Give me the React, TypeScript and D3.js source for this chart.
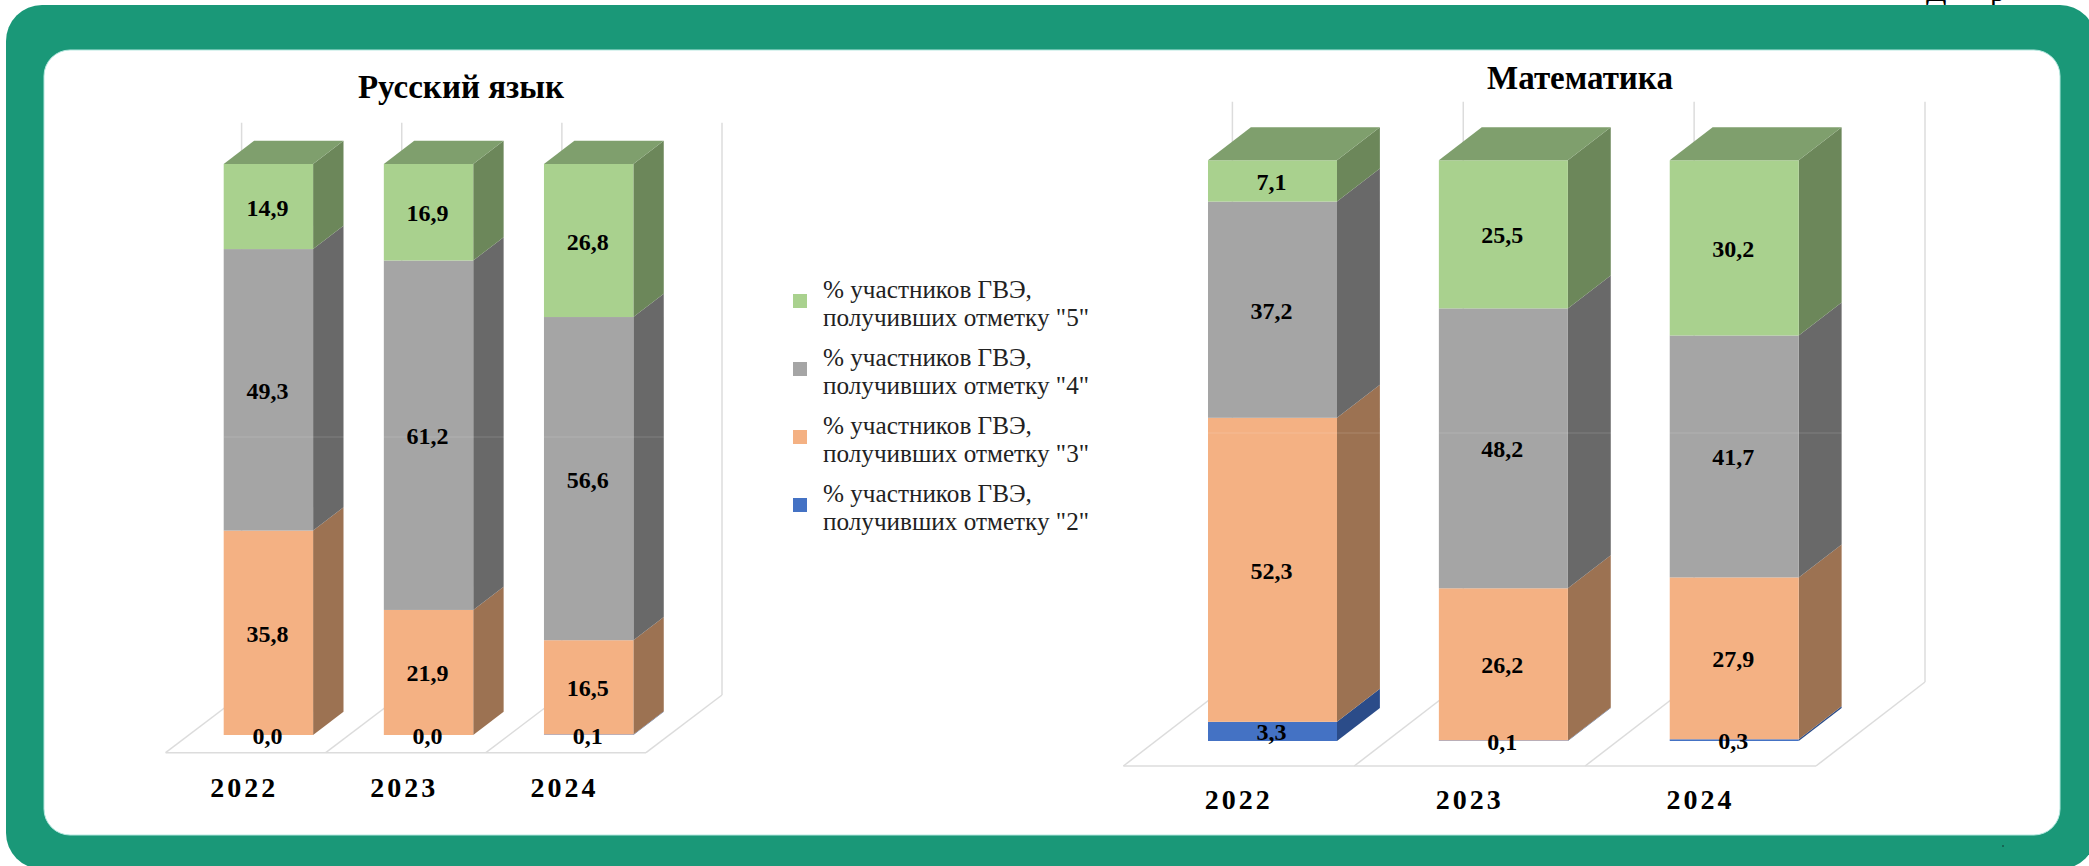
import React, { useEffect, useRef } from 'react';
import * as d3 from 'd3';

const years = ['2022', '2023', '2024'];
const seriesKeys = ['two', 'three', 'four', 'five'];

// оба графика: значения снизу вверх (отметка 2, 3, 4, 5)
const russianTwo = [0.0, 0.0, 0.1];
const russianThree = [35.8, 21.9, 16.5];
const russianFour = [49.3, 61.2, 56.6];
const russianFive = [14.9, 16.9, 26.8];

const mathTwo = [3.3, 0.1, 0.3];
const mathThree = [52.3, 26.2, 27.9];
const mathFour = [37.2, 48.2, 41.7];
const mathFive = [7.1, 25.5, 30.2];

const legendMarks = ['5', '4', '3', '2'];

const frontColor = { two: '#4472c4', three: '#f4b183', four: '#a5a5a5', five: '#a9d18e' };
const sideColor = { two: '#2b4c89', three: '#9c7252', four: '#696969', five: '#6c875a' };
const topColor = '#7f9f6d';
const gridColor = '#dcdcdc';
const serif = '"Liberation Serif", serif';

const toRows = (two, three, four, five) =>
  years.map((year, i) => ({ year, two: two[i], three: three[i], four: four[i], five: five[i] }));

const russianChart = {
  title: 'Русский язык', titleX: 461, titleY: 98,
  rows: toRows(russianTwo, russianThree, russianFour, russianFive),
  floorLeft: 165.6, floorRight: 646, floorY: 752.7,
  wallDx: 76, wallDy: 57.7, wallTop: 122.7,
  barOffset: 58.1, barWidth: 89.4, barDx: 30.4, barDy: 23.3,
  barTop: 164, barBottom: 735, yearY: 797, yearShift: -1.5, seamY: 437,
};

const mathChart = {
  title: 'Математика', titleX: 1580, titleY: 89,
  rows: toRows(mathTwo, mathThree, mathFour, mathFive),
  floorLeft: 1123.4, floorRight: 1816, floorY: 766,
  wallDx: 109, wallDy: 84, wallTop: 101.7,
  barOffset: 84.6, barWidth: 129, barDx: 42.9, barDy: 33,
  barTop: 160.3, barBottom: 741, yearY: 809, yearShift: 0, seamY: 433,
};

function drawChart(svg, c) {
  const x = d3.scaleBand().domain(years).range([c.floorLeft, c.floorRight]);
  const y = d3.scaleLinear().domain([0, 1]).range([c.barBottom, c.barTop]);
  const stacked = d3.stack().keys(seriesKeys).offset(d3.stackOffsetExpand)(c.rows);
  const poly = d3.line();
  const g = svg.append('g');

  // задняя стенка и пол
  const edges = [...years.map(d => x(d)), c.floorRight];
  edges.forEach(e => {
    g.append('line')
      .attr('x1', e + c.wallDx).attr('x2', e + c.wallDx)
      .attr('y1', c.wallTop).attr('y2', c.floorY - c.wallDy)
      .attr('stroke', gridColor).attr('stroke-width', 1.5);
    g.append('line')
      .attr('x1', e).attr('x2', e + c.wallDx)
      .attr('y1', c.floorY).attr('y2', c.floorY - c.wallDy)
      .attr('stroke', gridColor).attr('stroke-width', 1.5);
  });
  g.append('line')
    .attr('x1', c.floorLeft).attr('x2', c.floorRight)
    .attr('y1', c.floorY).attr('y2', c.floorY)
    .attr('stroke', gridColor).attr('stroke-width', 1.5);

  // столбцы
  stacked.forEach(layer => {
    layer.forEach(d => {
      const x0 = x(d.data.year) + c.barOffset;
      const x1 = x0 + c.barWidth;
      const yLow = y(d[0]);
      const yHigh = y(d[1]);
      g.append('path')
        .attr('d', poly([[x1, yLow], [x1, yHigh], [x1 + c.barDx, yHigh - c.barDy], [x1 + c.barDx, yLow - c.barDy]]) + 'Z')
        .attr('fill', sideColor[layer.key]);
      g.append('rect')
        .attr('x', x0).attr('y', yHigh)
        .attr('width', c.barWidth).attr('height', yLow - yHigh)
        .attr('fill', frontColor[layer.key]);
    });
  });

  // верхняя грань
  years.forEach(year => {
    const x0 = x(year) + c.barOffset;
    const x1 = x0 + c.barWidth;
    const t = y(1);
    g.append('path')
      .attr('d', poly([[x0, t], [x1, t], [x1 + c.barDx, t - c.barDy], [x0 + c.barDx, t - c.barDy]]) + 'Z')
      .attr('fill', topColor);
  });

  // шов на исходной картинке
  g.append('line')
    .attr('x1', x(years[0]) + c.barOffset).attr('x2', x(years[2]) + c.barOffset + c.barWidth + c.barDx)
    .attr('y1', c.seamY).attr('y2', c.seamY)
    .attr('stroke', '#ffffff').attr('stroke-opacity', 0.15).attr('stroke-width', 1);

  // подписи значений
  stacked.forEach(layer => {
    layer.forEach(d => {
      g.append('text')
        .attr('x', x(d.data.year) + c.barOffset + c.barWidth / 2 - 1)
        .attr('y', (y(d[0]) + y(d[1])) / 2 + 9)
        .attr('text-anchor', 'middle')
        .attr('font-family', serif).attr('font-weight', 700).attr('font-size', 24)
        .attr('fill', '#000')
        .text(d.data[layer.key].toFixed(1).replace('.', ','));
    });
  });

  // годы
  g.selectAll('text.year').data(years).enter().append('text')
    .attr('class', 'year')
    .attr('x', d => x(d) + x.bandwidth() / 2 + c.yearShift)
    .attr('y', c.yearY)
    .attr('text-anchor', 'middle')
    .attr('font-family', serif).attr('font-weight', 700).attr('font-size', 28)
    .attr('letter-spacing', 3)
    .attr('fill', '#000')
    .text(d => d);

  g.append('text')
    .attr('x', c.titleX).attr('y', c.titleY)
    .attr('text-anchor', 'middle')
    .attr('font-family', serif).attr('font-weight', 700).attr('font-size', 33)
    .attr('fill', '#000')
    .text(c.title);
}

function drawLegend(svg) {
  const y = d3.scalePoint().domain(legendMarks).range([298, 502]);
  const colors = { '5': frontColor.five, '4': frontColor.four, '3': frontColor.three, '2': frontColor.two };
  const g = svg.append('g');
  legendMarks.forEach(mark => {
    g.append('rect')
      .attr('x', 793).attr('y', y(mark) - 4)
      .attr('width', 14).attr('height', 14)
      .attr('fill', colors[mark]);
    const text = g.append('text')
      .attr('font-family', serif).attr('font-size', 25.2).attr('fill', '#222');
    text.append('tspan').attr('x', 823).attr('y', y(mark)).text('% участников ГВЭ,');
    text.append('tspan').attr('x', 823).attr('y', y(mark) + 27.5).text(`получивших отметку "${mark}"`);
  });
}

const App = () => {
  const ref = useRef(null);

  useEffect(() => {
    const svg = d3.select(ref.current);
    svg.selectAll('*').remove();

    svg.append('rect').attr('width', 2089).attr('height', 866).attr('fill', '#fff');

    // обрезанный текст над рамкой
    svg.append('text').attr('x', 1926).attr('y', 1)
      .attr('font-family', serif).attr('font-size', 30).attr('fill', '#000').text('Д');
    svg.append('text').attr('x', 1990).attr('y', 1)
      .attr('font-family', serif).attr('font-size', 30).attr('fill', '#000').text('р');

    svg.append('rect')
      .attr('x', 6).attr('y', 5).attr('width', 2090).attr('height', 864).attr('rx', 36)
      .attr('fill', '#1a9878');
    svg.append('rect')
      .attr('x', 44).attr('y', 50).attr('width', 2016).attr('height', 785).attr('rx', 26)
      .attr('fill', '#fff').attr('stroke', '#b5e8e0').attr('stroke-width', 1);
    svg.append('circle').attr('cx', 2003).attr('cy', 846).attr('r', 1).attr('fill', '#14594a');

    drawChart(svg, russianChart);
    drawChart(svg, mathChart);
    drawLegend(svg);
  }, []);

  return (
    <svg
      ref={ref}
      width={2089}
      height={866}
      style={{ position: 'absolute', top: 0, left: 0, display: 'block' }}
    />
  );
};

export default App;
